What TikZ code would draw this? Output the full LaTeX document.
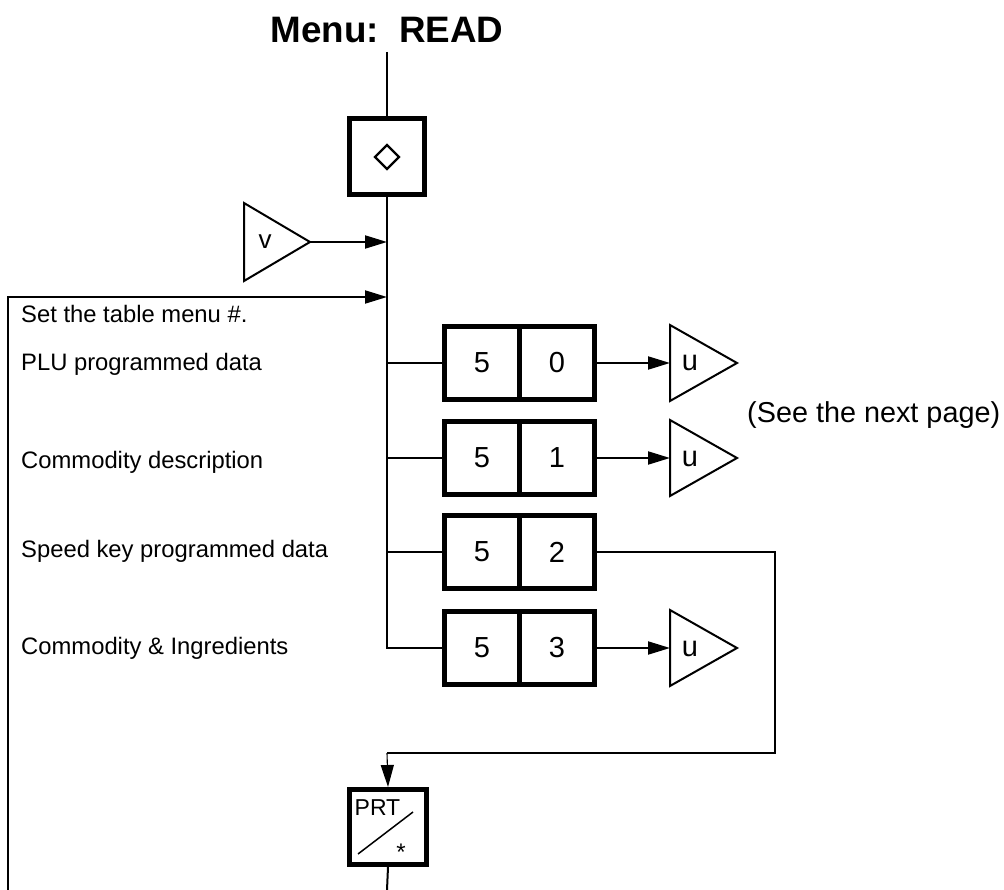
\documentclass[tikz,border=0pt]{standalone}
\usepackage{fontspec}
\setmainfont{Liberation Sans}
\usetikzlibrary{arrows.meta}
\begin{document}
\begin{tikzpicture}[x=1pt,y=-1pt,
  wire/.style={line width=2pt},
  thinwire/.style={line width=1.1pt},
  arr/.style={-{Triangle[length=22pt,width=13pt]}},
  keybox/.style={draw,line width=5pt,minimum width=75pt,minimum height=73pt,inner sep=0pt,font=\fontsize{29}{32}\selectfont},
  tri/.style={draw,line width=2pt,line join=miter},
  lab/.style={anchor=base west,inner sep=0pt,font=\fontsize{23.8}{26}\selectfont},
  tritext/.style={anchor=base,inner sep=0pt,font=\fontsize{29}{32}\selectfont},
]
\useasboundingbox[fill=white] (0,0) rectangle (1004,890);

% title
\node[anchor=base,inner sep=0pt,font=\bfseries\fontsize{36.8}{40}\selectfont] (title) at (387,43) {Menu:\ \ READ};
\coordinate (top) at (387,52);

% diamond key
\node[draw,line width=5pt,minimum width=75pt,minimum height=76pt,inner sep=0pt] (kd) at (387,157) {};
\draw[line width=2.4pt,line join=miter] (387,145) -- (399,157) -- (387,169) -- (375,157) -- cycle;
\draw[wire] (top) -- (kd.north);

% junctions on main line
\coordinate (jv) at (387,242);
\coordinate (jl) at (387,297);
\coordinate (j0) at (387,363);
\coordinate (j1) at (387,458);
\coordinate (j2) at (387,552);
\coordinate (j3) at (387,648);

% v triangle
\coordinate (vtip) at (310,242);
\draw[tri] (244,203) -- (vtip) -- (244,281) -- cycle;
\node[tritext,font=\fontsize{26}{28}\selectfont] (vtext) at (265,249) {v};
\draw[wire,arr] (vtip) -- (jv);

% loop back
\coordinate (lb) at (8,890);
\coordinate (lt) at (8,297);
\draw[wire,arr] (lb) -- (lt) -- (jl);

% labels
\node[lab] (l0) at (21,323) {Set the table menu \#.};
\node[lab] (l1) at (21,371) {PLU programmed data};
\node[lab] (l2) at (21,468) {Commodity description};
\node[lab] (l3) at (21,557) {Speed key programmed data};
\node[lab] (l4) at (21,654) {Commodity \& Ingredients};

% key rows
\node[keybox] (k0a) at (482,363) {5};
\node[keybox] (k0b) at (557,363) {0};
\node[keybox] (k1a) at (482,458) {5};
\node[keybox] (k1b) at (557,458) {1};
\node[keybox] (k2a) at (482,552) {5};
\node[keybox] (k2b) at (557,552) {2};
\node[keybox] (k3a) at (482,648) {5};
\node[keybox] (k3b) at (557,648) {3};

% main line
\draw[wire] (kd.south) -- (j3) -- (k3a.west);
\draw[wire] (j0) -- (k0a.west);
\draw[wire] (j1) -- (k1a.west);
\draw[wire] (j2) -- (k2a.west);

% u triangles
\foreach \r/\y in {0/363,1/458,3/648}{
  \coordinate (u\r) at (670,\y);
  \draw[tri] (670,\y-38) -- (737,\y) -- (670,\y+38) -- cycle;
  \node[tritext] (ut\r) at (690,\y+8) {u};
  \draw[wire,arr] (k\r b.east) -- (u\r);
}

% see next page
\node[anchor=base west,inner sep=0pt,font=\fontsize{28.8}{31}\selectfont] (see) at (747,422) {(See the next page)};

% PRT key
\node[draw,line width=5pt,minimum width=77pt,minimum height=75pt,inner sep=0pt] (prt) at (388,827) {};
\node[anchor=base,inner sep=0pt,font=\fontsize{23}{25}\selectfont] (prttext) at (377.5,815) {PRT};
\node[inner sep=0pt,font=\fontsize{24}{26}\selectfont] (star) at (401,852) {*};
\draw[line width=1.5pt] (358,854) -- (413,812);

% speed key path
\coordinate (r1) at (775,552);
\coordinate (r2) at (775,753);
\coordinate (r3) at (387,753);
\draw[thinwire] (k2b.east) -- (r1) -- (r2) -- (r3);
\draw[thinwire,arr] (r3) -- (prt.north);
\coordinate (bot) at (387,890);
\draw[wire] (prt.south) -- (bot);
\end{tikzpicture}
\end{document}
